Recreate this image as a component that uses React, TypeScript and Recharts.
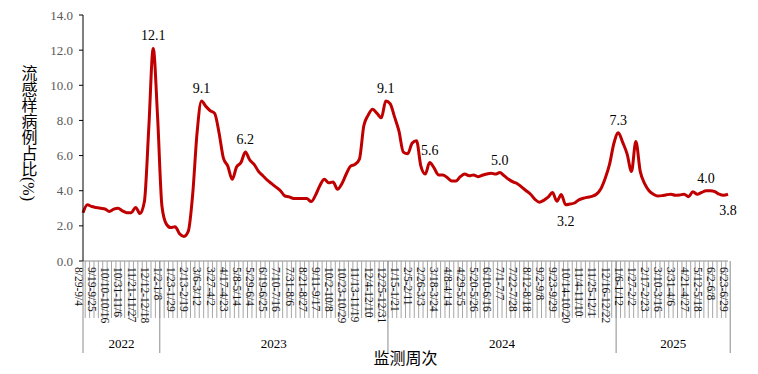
import { LineChart, Line, XAxis, YAxis, LabelList, Label } from 'recharts'

const SERIF = '"Liberation Serif", "Noto Sans CJK SC", serif'

// weekly categories from 2022-08-29 to 2025-06-29 (year = ISO week year)
const FIRST_MONDAY = [2022, 7, 29]
const WEEK_COUNT = 148
const md = (d: Date) => `${d.getMonth() + 1}/${d.getDate()}`
const weeks: string[] = []
const years: string[] = []
for (let i = 0; i < WEEK_COUNT; i++) {
  const [y, m, d] = FIRST_MONDAY
  const mon = new Date(y, m, d + i * 7)
  const sun = new Date(y, m, d + i * 7 + 6)
  const thu = new Date(y, m, d + i * 7 + 3)
  weeks.push(`${md(mon)}-${md(sun)}`)
  years.push(String(thu.getFullYear()))
}

const rate = [
  2.75, 3.2, 3.1, 3.05, 3.0, 2.96, 2.82, 2.95, 3.0, 2.85,
  2.75, 2.75, 3.05, 2.7, 3.4, 7.6, 12.1, 8.2, 3.1, 2.1,
  1.9, 1.95, 1.55, 1.4, 1.7, 3.8, 7.3, 9.1, 8.8, 8.55,
  8.4, 7.3, 5.85, 5.4, 4.65, 5.35, 5.6, 6.2, 5.75, 5.5,
  5.1, 4.85, 4.6, 4.4, 4.2, 4.0, 3.7, 3.65, 3.55, 3.55,
  3.55, 3.55, 3.38, 3.75, 4.3, 4.65, 4.45, 4.5, 4.08, 4.4,
  4.95, 5.4, 5.5, 5.8, 7.7, 8.3, 8.63, 8.4, 8.15, 9.1,
  8.95, 8.2, 7.4, 6.2, 6.1, 6.7, 6.85, 5.4, 4.95, 5.6,
  5.3, 4.9, 4.9, 4.75, 4.55, 4.55, 4.8, 4.95, 4.85, 4.9,
  4.8, 4.88, 4.95, 5.0, 4.95, 5.03, 4.85, 4.65, 4.5, 4.4,
  4.2, 4.0, 3.8, 3.51, 3.35, 3.45, 3.63, 3.9, 3.4, 3.78,
  3.2, 3.24, 3.3, 3.48, 3.57, 3.63, 3.68, 3.8, 4.1, 4.7,
  5.5, 6.7, 7.3, 6.75, 6.1, 5.1, 6.8, 5.1, 4.4, 4.0,
  3.8, 3.7, 3.72, 3.77, 3.8, 3.74, 3.76, 3.8, 3.66, 3.94,
  3.8, 3.9, 4.0, 4.0, 3.95, 3.8, 3.74, 3.8,
]

// indices that carry a value label, and where it sits
const labelled: Record<number, 'above' | 'below'> = {
  16: 'above', 27: 'above', 37: 'above', 69: 'above', 79: 'above',
  95: 'above', 110: 'below', 122: 'above', 142: 'above', 147: 'below',
}

const yTicks = [0, 2, 4, 6, 8, 10, 12, 14]

const data = weeks.map((week, i) => ({ week, year: years[i], rate: rate[i] }))

const W = 758
const H = 374
const M = { top: 15, right: 30, left: 0, bottom: 0 }
const Y_W = 83

const WeekTick = (props: any) => {
  const { x, y, index } = props
  const n = weeks.length
  const axisW = props.width ?? W - Y_W - M.right
  const step = axisW / (n - 1)
  const yr = years[index]
  const isFirst = index === 0 || years[index - 1] !== yr
  const out: any[] = []

  if (index < n - 1) {
    out.push(<line key="s" x1={x + step / 2} x2={x + step / 2} y1={y} y2={y + 57} stroke="#a6a6a6" />)
  }
  if (index % 3 === 0) {
    const tx = x - 4
    const ty = y + 6
    out.push(
      <text key="t" x={tx} y={ty} transform={`rotate(90, ${tx}, ${ty})`} textAnchor="start"
        dominantBaseline="central" fontSize={11.5} fontFamily={SERIF} fill="#111">
        {weeks[index]}
      </text>
    )
  }
  if (isFirst) {
    let end = index
    while (end + 1 < n && years[end + 1] === yr) end++
    const left = index === 0 ? x : x - step / 2
    const right = x + (end - index) * step + step / 2
    out.push(<line key="yl" x1={left} x2={left} y1={y} y2={y + 92} stroke="#8c8c8c" />)
    if (end === n - 1) {
      out.push(<line key="yr" x1={right} x2={right} y1={y} y2={y + 92} stroke="#8c8c8c" />)
    }
    out.push(
      <text key="y" x={(left + right) / 2} y={y + 87} textAnchor="middle" fontSize={13}
        fontFamily={SERIF} fill="#000">
        {yr}
      </text>
    )
  }
  return <g>{out}</g>
}

const PeakLabel = (props: any) => {
  const { x, y, value, index } = props
  const pos = labelled[index]
  if (!pos) return null
  return (
    <text x={x} y={pos === 'above' ? y - 8 : y + 21} textAnchor="middle" fontSize={14}
      fontFamily={SERIF} fill="#000">
      {Number(value).toFixed(1)}
    </text>
  )
}

const YTitle = (props: any) => {
  const vb = props.viewBox || { x: 0, y: M.top, height: 246 }
  const cx = vb.x + 28
  const cy = vb.y + vb.height / 2 - 5
  return (
    <text x={cx} y={cy} textAnchor="middle" fontSize={16} fontFamily={SERIF} fill="#000"
      style={{ writingMode: 'vertical-rl' }}>
      流感样病例占比(%)
    </text>
  )
}

export default function App() {
  return (
    <div style={{ position: 'absolute', left: 0, top: 0, width: W, height: H, background: '#fff' }}>
      <LineChart width={W} height={H} data={data} margin={M}>
        <XAxis dataKey="week" interval={0} height={113} tickLine={false} tickSize={0} tickMargin={0}
          axisLine={{ stroke: '#8c8c8c' }} tick={(p: any) => <WeekTick {...p} />}>
          <Label value="监测周次" position="insideBottom" offset={10}
            style={{ fontSize: 16, fill: '#000', fontFamily: SERIF }} />
        </XAxis>
        <YAxis domain={[0, 14]} ticks={yTicks} width={Y_W} interval={0} tickSize={4} tickMargin={6}
          axisLine={{ stroke: '#000' }} tickLine={{ stroke: '#000' }}
          tickFormatter={(v) => Number(v).toFixed(1)}
          tick={{ fill: '#595959', fontSize: 13, fontFamily: SERIF }}>
          <Label content={<YTitle />} />
        </YAxis>
        <Line type="monotone" dataKey="rate" stroke="#c00000" strokeWidth={3} dot={false}
          activeDot={false} isAnimationActive={false}>
          <LabelList dataKey="rate" content={<PeakLabel />} />
        </Line>
      </LineChart>
    </div>
  )
}
